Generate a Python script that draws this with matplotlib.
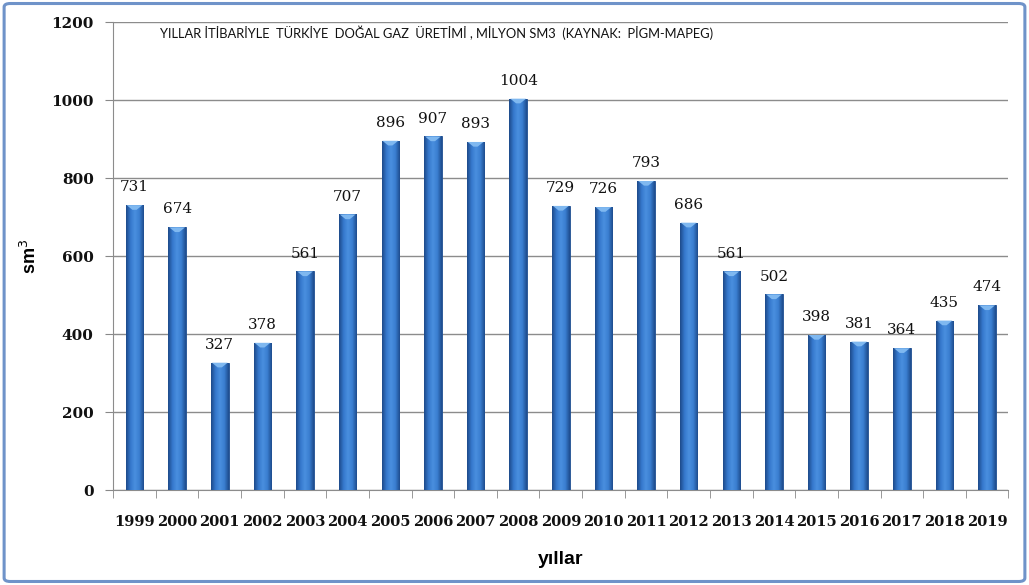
import matplotlib
matplotlib.use("Agg")
import matplotlib.pyplot as plt
import numpy as np
from matplotlib.patches import FancyBboxPatch, Polygon
from matplotlib.colors import LinearSegmentedColormap

years = ["1999", "2000", "2001", "2002", "2003", "2004", "2005", "2006", "2007", "2008",
         "2009", "2010", "2011", "2012", "2013", "2014", "2015", "2016", "2017", "2018", "2019"]
values = [731, 674, 327, 378, 561, 707, 896, 907, 893, 1004,
          729, 726, 793, 686, 561, 502, 398, 381, 364, 435, 474]
yticks = [0, 200, 400, 600, 800, 1000, 1200]
title = "YILLAR İTİBARİYLE  TÜRKİYE  DOĞAL GAZ  ÜRETİMİ , MİLYON SM3  (KAYNAK:  PİGM-MAPEG)"

fig = plt.figure(figsize=(10.29, 5.85), dpi=100)
fig.patch.set_facecolor("white")
border = FancyBboxPatch((0.004, 0.006), 0.992, 0.988, boxstyle="round,pad=0,rounding_size=0.006",
                        transform=fig.transFigure, fill=False, edgecolor="#6F93C9", linewidth=2.2)
fig.patches.append(border)

ax = fig.add_axes([0.110, 0.162, 0.870, 0.800])
x = np.arange(len(years))
bars = ax.bar(x, values, width=0.41, color="#2F6DBE", edgecolor="#1F4E8F", linewidth=0.6, zorder=3)

cmap = LinearSegmentedColormap.from_list("g", ["#1D4A8A", "#3578CC", "#4A8FDF", "#3A7ED0", "#1E4C8E"])
grad = np.linspace(0, 1, 64).reshape(1, -1)
for b in bars:
    x0, w, h = b.get_x(), b.get_width(), b.get_height()
    im = ax.imshow(grad, cmap=cmap, aspect="auto", extent=(x0, x0 + w, 0, h), zorder=3.5)
    im.set_clip_path(b)
    cap = Polygon([(x0 + 0.05 * w, h), (x0 + 0.95 * w, h), (x0 + 0.62 * w, h - 12),
                   (x0 + 0.38 * w, h - 12)], closed=True, facecolor="#7FB8F0",
                  edgecolor="none", zorder=4)
    ax.add_patch(cap)

ax.set_xlim(-0.5, len(years) - 0.5)
ax.set_ylim(0, 1200)
ax.set_yticks(yticks)
ax.set_xticks(x)
ax.set_xticklabels(years)
ax.set_xticks(np.arange(-0.5, len(years), 1), minor=True)
ax.tick_params(axis="x", which="major", length=0, pad=18, labelsize=10.5, labelcolor="#111111")
ax.tick_params(axis="x", which="minor", length=6, color="#888888")
ax.tick_params(axis="y", length=6, color="#888888", labelsize=11, pad=8, labelcolor="#111111")
for lab in ax.get_xticklabels() + ax.get_yticklabels():
    lab.set_family("DejaVu Serif")
    lab.set_fontweight("bold")
ax.grid(axis="y", color="#8C8C8C", linewidth=1.0, zorder=0)
ax.set_axisbelow(True)
for s in ["top", "right"]:
    ax.spines[s].set_visible(False)
for s in ["left", "bottom"]:
    ax.spines[s].set_color("#8C8C8C")

for xi, v in zip(x, values):
    ax.text(xi, v + 28, str(v), ha="center", va="bottom", fontsize=11,
            family="DejaVu Serif", color="#111111")

ax.set_ylabel("sm$^3$", fontsize=13, fontweight="bold", family="Liberation Sans", labelpad=8)
ax.set_xlabel("yıllar", fontsize=14, fontweight="bold", family="Liberation Sans", labelpad=16)
ax.text(0.0525, 0.993, title, transform=ax.transAxes, ha="left", va="top", fontsize=9.3,
        family="Lato", color="#111111")

fig.savefig("out.png", dpi=100)
